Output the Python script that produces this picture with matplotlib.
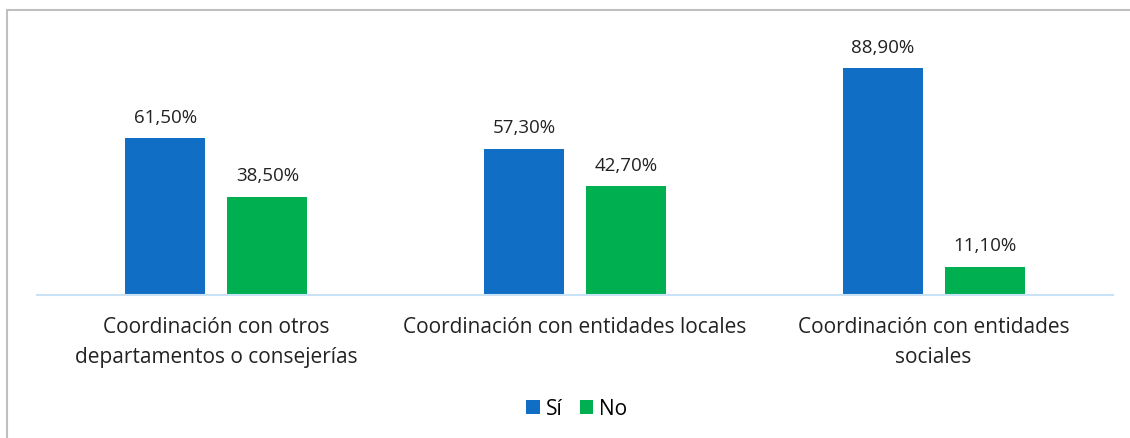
import matplotlib
matplotlib.use("Agg")
import matplotlib.pyplot as plt
import numpy as np
from matplotlib.patches import Rectangle

# Data
categories = [
    "Coordinación con otros\ndepartamentos o consejerías",
    "Coordinación con entidades locales",
    "Coordinación con entidades\nsociales",
]
series_names = ["Sí", "No"]
si_values = [61.5, 57.3, 88.9]
no_values = [38.5, 42.7, 11.1]

colors = ["#106EC4", "#00AF50"]

plt.rcParams["font.family"] = ["Open Sans", "DejaVu Sans"]

W, H = 1130, 439
fig = plt.figure(figsize=(W / 100, H / 100), dpi=100)

# chart border (light gray, partially clipped like the reference)
fig.patches.append(Rectangle((7 / W, -0.05), 1.2, 1 - 11 / H + 0.05,
                             transform=fig.transFigure, fill=False,
                             edgecolor="#BFBFBF", linewidth=1.5))

ax = fig.add_axes([37 / W, (H - 296) / H, (1113 - 37) / W, (296 - 41) / H])

x = np.arange(len(categories))
bar_w = 80 / 358.7
gap = 22 / 358.7
offset = (bar_w + gap) / 2

bars_si = ax.bar(x - offset, si_values, bar_w, color=colors[0], label=series_names[0])
bars_no = ax.bar(x + offset, no_values, bar_w, color=colors[1], label=series_names[1])

for bars, vals in [(bars_si, si_values), (bars_no, no_values)]:
    for b, v in zip(bars, vals):
        ax.annotate(f"{v:.2f}%".replace(".", ","),
                    (b.get_x() + b.get_width() / 2, v),
                    xytext=(0, 9), textcoords="offset points",
                    ha="center", va="bottom", fontsize=13.5, color="#222222")

ax.set_xlim(-0.5, len(categories) - 0.5)
ax.set_ylim(0, 100)
ax.set_yticks([])
ax.set_xticks(x)
ax.set_xticklabels(categories, fontsize=15, color="#222222", linespacing=1.6)
ax.tick_params(axis="x", length=0, pad=15)
for s in ["top", "right", "left"]:
    ax.spines[s].set_visible(False)
ax.spines["bottom"].set_color("#C9E2F5")
ax.spines["bottom"].set_linewidth(1.5)

fig.legend(handles=[bars_si, bars_no], labels=series_names,
           loc="center", bbox_to_anchor=(577 / W, (H - 410) / H),
           ncol=2, frameon=False, fontsize=15, handlelength=0.65,
           handleheight=0.65, handletextpad=0.3, columnspacing=0.8)

fig.savefig("out.png", dpi=100)
